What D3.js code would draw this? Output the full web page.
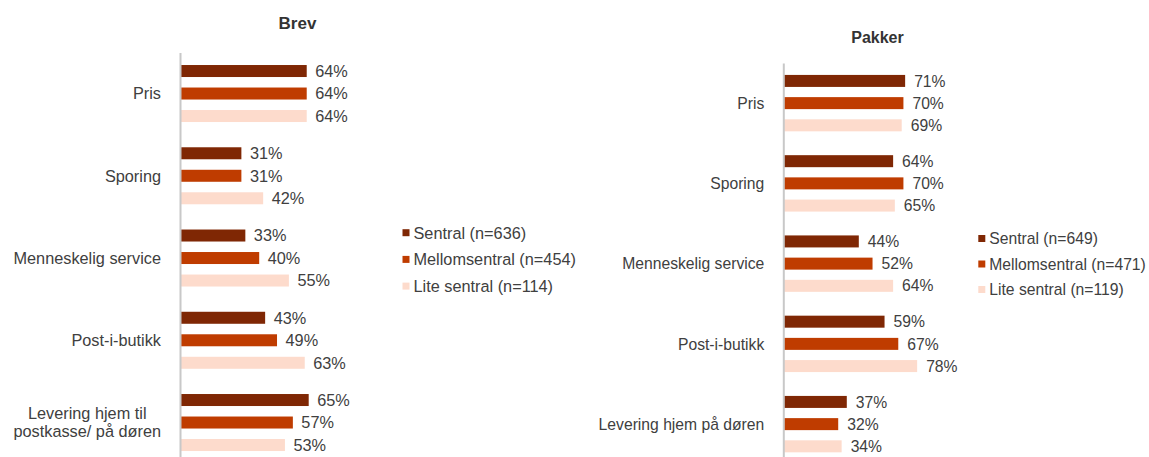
<!DOCTYPE html>
<html>
<head>
<meta charset="utf-8">
<script src="https://cdn.jsdelivr.net/npm/d3@7"></script>
<style>
  html, body { margin: 0; padding: 0; background: #ffffff; }
  svg { display: block; font-family: "Liberation Sans", Arial, sans-serif; }
</style>
</head>
<body>
<svg id="chart" width="1149" height="457"></svg>
<script>
// ---- Data ----
const series = ["Sentral", "Mellomsentral", "Lite sentral"];
const colors = ["#7f2704", "#bf3c00", "#fddbcc"];

const brevTitle = "Brev";
const brevCategories = ["Pris", "Sporing", "Menneskelig service", "Post-i-butikk", "Levering hjem til\npostkasse/ på døren"];
const brevSentral = [0.64, 0.31, 0.33, 0.43, 0.65];
const brevMellom = [0.64, 0.31, 0.40, 0.49, 0.57];
const brevLite = [0.64, 0.42, 0.55, 0.63, 0.53];
const brevLegend = ["Sentral (n=636)", "Mellomsentral (n=454)", "Lite sentral (n=114)"];

const pakkerTitle = "Pakker";
const pakkerCategories = ["Pris", "Sporing", "Menneskelig service", "Post-i-butikk", "Levering hjem på døren"];
const pakkerSentral = [0.71, 0.64, 0.44, 0.59, 0.37];
const pakkerMellom = [0.70, 0.70, 0.52, 0.67, 0.32];
const pakkerLite = [0.69, 0.65, 0.64, 0.78, 0.34];
const pakkerLegend = ["Sentral (n=649)", "Mellomsentral (n=471)", "Lite sentral (n=119)"];

const svg = d3.select("#chart");
const textColor = "#404040";

function drawPanel(cfg) {
  const g = svg.append("g");
  const values = [cfg.s, cfg.m, cfg.l];

  const y = d3.scaleBand().domain(cfg.categories)
    .range([cfg.top, cfg.top + cfg.groupStep * cfg.categories.length])
    .paddingInner(0).paddingOuter(0);
  const bw = y.bandwidth();
  const innerLen = cfg.barStep * (series.length - (cfg.barStep - cfg.barH) / cfg.barStep);
  const yi = d3.scaleBand().domain(series)
    .range([(bw - innerLen) / 2, (bw + innerLen) / 2])
    .paddingInner((cfg.barStep - cfg.barH) / cfg.barStep).paddingOuter(0);
  const x = d3.scaleLinear().domain([0, 1]).range([cfg.x0, cfg.x0 + cfg.xLen]);

  // title
  g.append("text")
    .attr("x", cfg.titleX).attr("y", cfg.titleY)
    .attr("text-anchor", "middle")
    .attr("font-size", cfg.titleSize).attr("font-weight", "bold")
    .attr("fill", "#333333")
    .text(cfg.title);

  // bars
  cfg.categories.forEach((c, ci) => {
    series.forEach((s, si) => {
      const v = values[si][ci];
      const by = y(c) + yi(s);
      g.append("rect")
        .attr("x", x(0)).attr("y", by)
        .attr("width", x(v) - x(0)).attr("height", yi.bandwidth())
        .attr("fill", colors[si]);
      g.append("text")
        .attr("x", x(v) + cfg.labelGap).attr("y", by + yi.bandwidth() / 2)
        .attr("dy", "0.36em")
        .attr("font-size", cfg.fontSize).attr("fill", textColor)
        .text(d3.format(".0%")(v));
    });
    // category label
    const lines = c.split("\n");
    const cy = y(c) + yi(series[1]) + yi.bandwidth() / 2;
    const lh = 18;
    const t = g.append("text")
      .attr("font-size", cfg.fontSize).attr("fill", textColor)
      .attr("text-anchor", lines.length > 1 ? "middle" : "end");
    const tspans = lines.map((ln, li) => t.append("tspan")
      .attr("y", cy + (li - (lines.length - 1) / 2) * lh)
      .attr("dy", "0.36em")
      .text(ln));
    if (lines.length > 1) {
      const maxW = d3.max(tspans, ts => ts.node().getComputedTextLength());
      tspans.forEach(ts => ts.attr("x", cfg.x0 - cfg.catGap - maxW / 2));
    } else {
      tspans.forEach(ts => ts.attr("x", cfg.x0 - cfg.catGap));
    }
  });

  // axis line (category axis)
  const axis = d3.axisLeft(y).tickSize(0).tickFormat("");
  const ag = g.append("g").attr("transform", `translate(${cfg.x0},0)`).call(axis);
  ag.select(".domain").attr("stroke", "#c8c8c8").attr("stroke-width", 2);

  // legend
  cfg.legend.forEach((lbl, i) => {
    const ly = cfg.legY + i * cfg.legStep;
    g.append("rect")
      .attr("x", cfg.legX).attr("y", ly - 3.5)
      .attr("width", 7).attr("height", 7)
      .attr("fill", colors[i]);
    g.append("text")
      .attr("x", cfg.legX + 11).attr("y", ly).attr("dy", "0.36em")
      .attr("font-size", cfg.fontSize).attr("fill", textColor)
      .text(lbl);
  });
}

drawPanel({
  title: brevTitle, titleX: 297.5, titleY: 29, titleSize: 17,
  categories: brevCategories, s: brevSentral, m: brevMellom, l: brevLite,
  legend: brevLegend,
  top: 52.4, groupStep: 82.25, barStep: 22.5, barH: 12,
  x0: 180, xLen: 198, labelGap: 8.5, catGap: 19, fontSize: 16.3,
  legX: 402.5, legY: 232.7, legStep: 26.7
});

drawPanel({
  title: pakkerTitle, titleX: 877.5, titleY: 42.5, titleSize: 16,
  categories: pakkerCategories, s: pakkerSentral, m: pakkerMellom, l: pakkerLite,
  legend: pakkerLegend,
  top: 63, groupStep: 80.25, barStep: 22.2, barH: 12,
  x0: 783.3, xLen: 171.6, labelGap: 9, catGap: 19, fontSize: 15.7,
  legX: 978.3, legY: 238.5, legStep: 25.5
});
</script>
</body>
</html>
